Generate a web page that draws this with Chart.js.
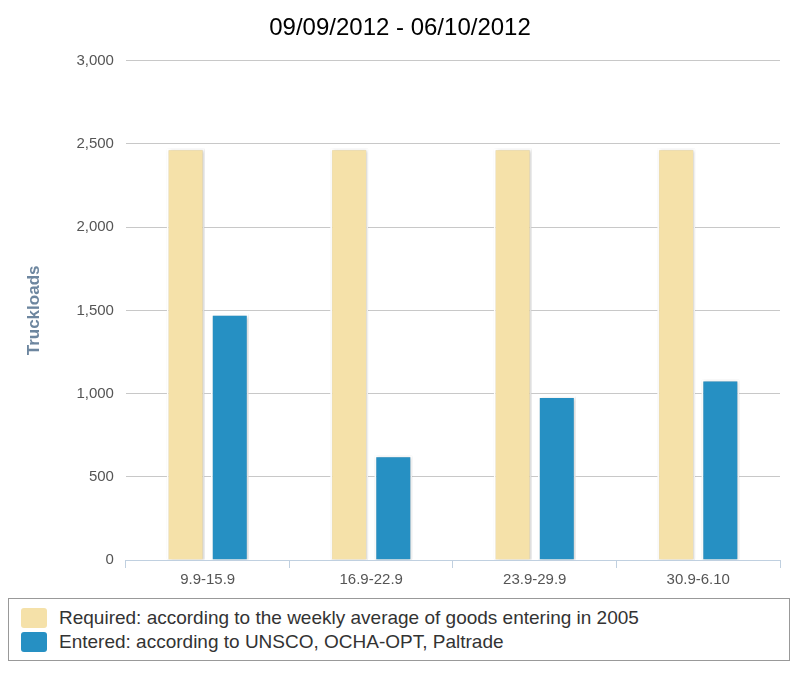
<!DOCTYPE html>
<html><head><meta charset="utf-8">
<script src="https://cdn.jsdelivr.net/npm/chart.js@4"></script>
<style>
body{margin:0;background:#fff;font-family:"Liberation Sans",Arial,sans-serif;}
#wrap{position:relative;width:800px;height:592px;}
#legend{position:absolute;left:8px;top:598px;width:782px;height:63px;border:1px solid #999;box-sizing:border-box;padding:7px 12px;}
.item{display:flex;align-items:center;font-size:19px;color:#333;height:24px;}
.sw{width:26px;height:20px;margin-right:12px;border-radius:3px;}
</style></head><body>
<div id="wrap"><canvas id="c" width="800" height="592" style="width:800px;height:592px"></canvas></div>
<div id="legend"></div>
<script>
const categories=["9.9-15.9","16.9-22.9","23.9-29.9","30.9-6.10"];
const required=[2475,2475,2475,2475];
const entered=[1480,630,985,1085];
const seriesNames=["Required: according to the weekly average of goods entering in 2005","Entered: according to UNSCO, OCHA-OPT, Paltrade"];
const colors=["#F5E1A9","#2690C3"];
const yTicks=[0,500,1000,1500,2000,2500,3000];
const lg=document.getElementById('legend');
seriesNames.forEach((n,i)=>{lg.innerHTML+=`<div class="item"><div class="sw" style="background:${colors[i]}"></div>${n}</div>`;});
const shadow={id:'sh',beforeDatasetsDraw(c){c.ctx.save();c.ctx.shadowColor='rgba(0,0,0,0.25)';c.ctx.shadowOffsetX=1;c.ctx.shadowOffsetY=1;c.ctx.shadowBlur=3;},afterDatasetsDraw(c){c.ctx.restore();}};
new Chart(document.getElementById('c'),{type:'bar',
data:{labels:categories,datasets:[
{label:seriesNames[0],data:required,backgroundColor:colors[0],borderColor:'#fff',borderWidth:2,barPercentage:0.86,categoryPercentage:0.54},
{label:seriesNames[1],data:entered,backgroundColor:colors[1],borderColor:'#fff',borderWidth:2,barPercentage:0.86,categoryPercentage:0.54}]},
options:{responsive:false,animation:false,devicePixelRatio:1,
layout:{padding:{left:20,right:20,top:10,bottom:0}},
plugins:{legend:{display:false},tooltip:{enabled:false},
title:{display:true,text:'09/09/2012 - 06/10/2012',color:'#000',font:{size:24,family:'"Liberation Sans",Arial',weight:'normal'},padding:{top:4,bottom:18}}},
scales:{
x:{grid:{offset:true,drawOnChartArea:false,color:'#C0D0E0',tickLength:8},border:{color:'#C0D0E0'},ticks:{color:'#555',font:{size:15,family:'"Liberation Sans",Arial'}}},
y:{min:0,max:3000,afterBuildTicks(a){a.ticks=yTicks.map(v=>({value:v}));},
grid:{color:'#C8C8C8',drawTicks:false},border:{display:false},
ticks:{color:'#555',padding:12,font:{size:15,family:'"Liberation Sans",Arial'},callback:v=>v.toLocaleString('en-US')},
title:{display:true,text:'Truckloads',color:'#6D869F',font:{size:17,weight:'bold',family:'"Liberation Sans",Arial'},padding:{bottom:20}}}}}
,plugins:[shadow]});
</script></body></html>
